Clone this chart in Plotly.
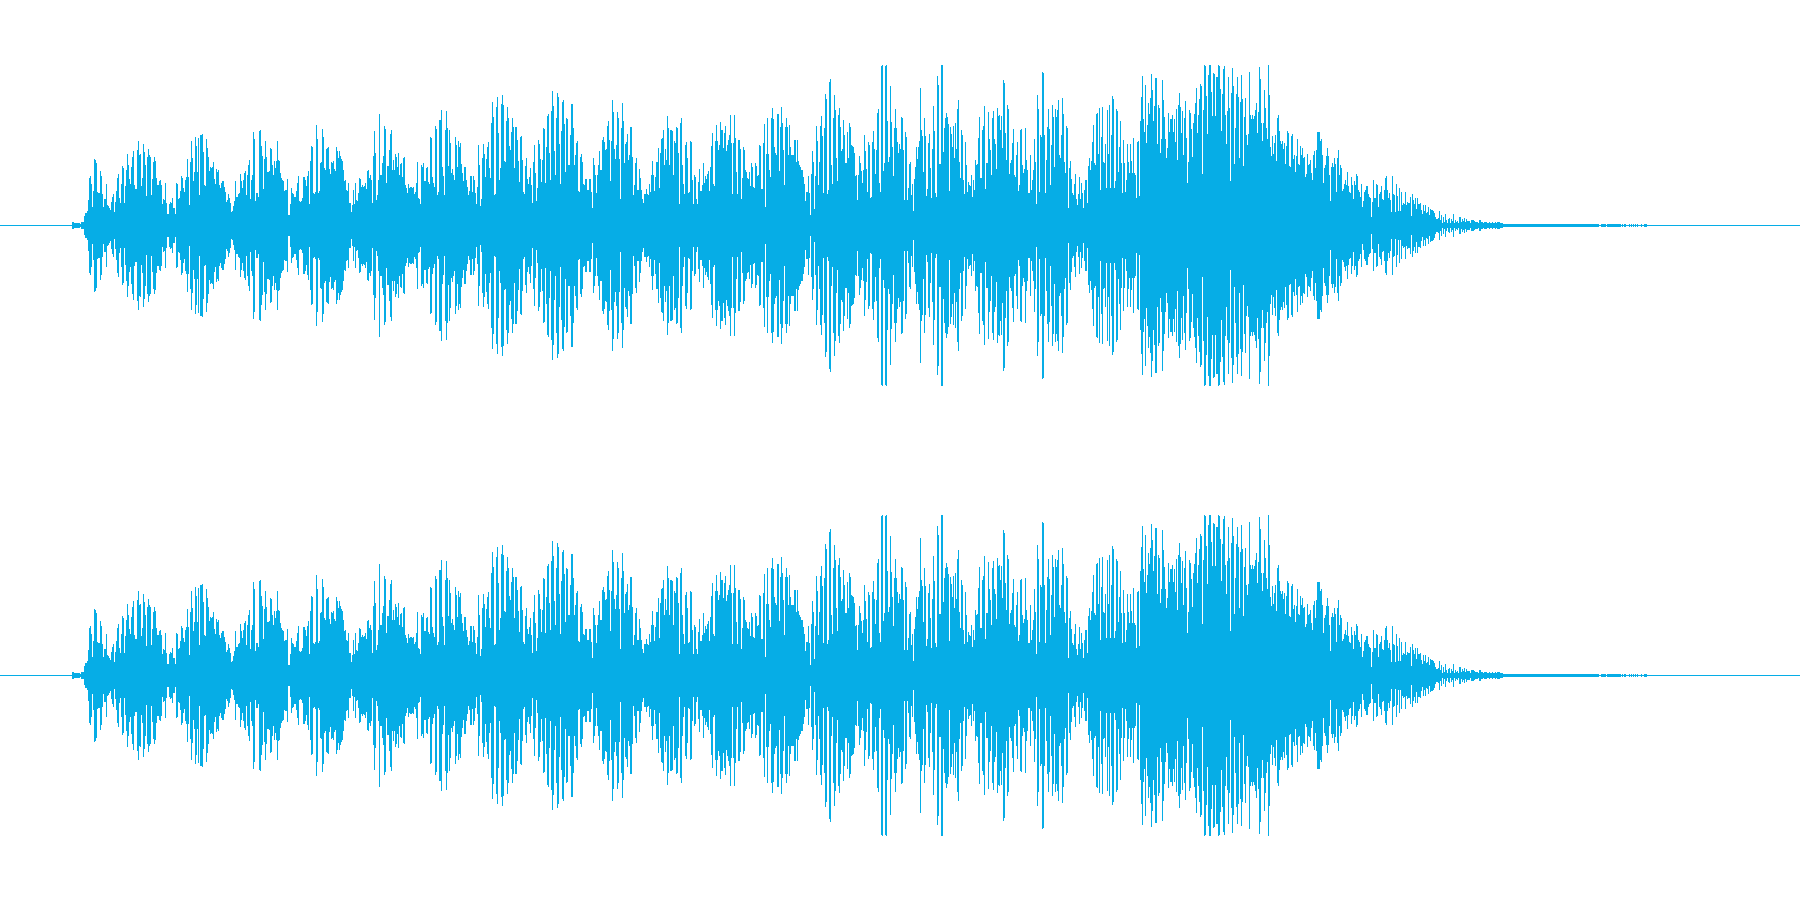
import plotly.graph_objects as go
from plotly.subplots import make_subplots

COLOR = "#06ADE6"
COLUMNS = 1800

onset = [3,3,2,2,2,2,2,2,1,3,3,3,9,12,12,14]
part_a = [25,47,49,41,18,34,66,65,62,33,32,32,54,49,31,18,26,26,41,20,19,17,15,23,28,31,13,23,34,47,51,27,22,41,59,57,22,39,55,71,60,46,41,58,68,74,40,36,36,75,84,70,71,39,47,81,73,60,29,68,76,70,68,30,46,63,68,64,47,40,40,44,45,40,21,26,25,42,22,11,11,21,23,22,27,17,17,11,42,41,26,27,34,49,47,37,33,45,48,66,48,20,63,84,67,44,53,88,79,53,87,30,90,90,91,73,40,39,86,77,68,54,58,57,58,63,46,41,56,53,55,40,37,42,44,44,38,33,23,25,31,27,22,13,14,19,24,44,28,28,31,32,51,44,37,45,52,54,30,50,60,65,26,45,50,93,86,24,32,32,28,94,95,79,69,36,66,84,68,53,53,54,77,76,60,50,64,57,64,84,65,64,52,47,45,44,34,35,35,46,10,10,21,37,32,31,28,28,34,42,49,24,23,24,27,48,48,45,39,49,54,21,64,79,78,32,31,33,100,86,32,34,62,63,96,88,57,55,76,77,78,56,51,63,62,64,56,54,78,74,67,74,69,66,64,55,44,45,35,34,42,22,22,13,20,35,21,42,25,24,32,47,46,38,40,38,39,42,36,54,55,47,50,45,22,69,94,72,25,30,45,111,50,50,62,69,99,96,42,59,59,75,91,95,55,65,55,71,68,58,72,50,61,62,48,67,68,40,37,32,41,37,38,38,37,38,31,33,42,63,27,26,21,60,58,62,44,44,57,58,43,41,88,87,48,42,38,99,96,30,33,105,105,115,58,49,30,95,114,97,59,95,82,52,56,50,45,88,80,58,84,78]
part_b = [82,61,52,44,58,58,45,38,30,34,49,49,33,49,45,32,21,38,80,60,19,26,67,81,71,48,66,78,83,57,47,102,123,108,30,31,118,128,92,45,57,121,130,120,64,63,104,118,107,79,75,93,107,98,57,98,98,85,64,43,88,89,65,33,31,59,67,46,41,48,57,40,22,63,80,52,24,37,85,81,66,43,65,97,96,42,78,109,111,72,45,114,134,119,74,50,107,132,128,81,41,94,123,125,101,53,107,106,60,60,90,121,121,97,60,70,82,84,34,33,68,71,63,41,40,46,46,35,35,46,46,33,17,67,60,50,32,50,60,74,55,55,85,88,83,75,76,99,104,85,44,84,125,113,76,66,80,113,107,66,26,97,122,104,62,81,83,91,65,70,98,98,68,30,40,62,67,35,35,56,47,35,26,22,31,31,36,31,30,41,33,50,64,50,34,48,63,63,77,37,72,86,87,95,60,76,65,109,97,60,95,95,94,50,84,82,98,97,72,21,102,107,60,41,31,80,83,67,32,33,84,83,45,21,50,48,26,21,43,56,34,34,40,62,42,49,46,51,54,34,58,79,92,41,39,84,100,84,75,80,103,95,95,77,92,99,74,80,85,90,110,82,31,82,110,87,53,31,85,85,76,26,47,78,75,55,53,47,46,53,39,62,58,38,37,62,59,49,50,80,79,36,36,82,101,18,71,107,71,55,48,107,117,106,78,72,70,111,111,54,98,118,102,75,40,98,107,98,70,100,78,70,70,70,85,85,63,85,64,60,58,55,55,48,41,24,33,33,49,32,10,51,74,63,16,49,99,84,40,63,99,109,89,32,97,131,126,31,35,143,146,60,41,107,130,115,67,44,110,117,98,74,76,105,90,62,62,93,67,102]
part_c = [98,80,79,78,72,49,50,25,50,69,62,54,42,55,90,74,56,33,83,80,27,28,83,94,76,51,75,112,116,42,33,159,160,54,62,159,160,104,63,68,139,103,78,49,97,116,97,83,72,81,76,108,107,75,25,93,88,25,37,61,63,30,41,14,46,58,78,66,78,84,137,95,89,53,107,89,29,36,82,91,57,27,76,119,94,32,28,149,140,61,61,160,160,73,97,107,112,108,101,34,98,91,78,99,67,102,76,116,125,63,47,95,90,45,31,83,60,33,43,40,39,50,28,45,35,65,60,61,87,108,47,47,95,99,119,36,62,62,113,86,75,50,107,114,86,81,56,117,109,110,95,109,77,145,142,92,65,120,116,51,62,65,82,96,50,48,70,83,34,40,95,96,60,52,56,97,65,55,32,32,70,35,45,55,86,63,21,130,116,33,90,88,153,152,90,32,65,98,116,96,40,80,120,108,58,116,108,115,125,70,67,90,127,111,63,52,99,97,17,57,64,46,32,30,41,51,26,20,31,48,26,42,32,17,35,45,45,22,59,67,55,64,83,100,62,60,111,112,71,117,35,88,118,63,62,81,37,115,71,120,37,90,129,126,37,44,116,114,53,78,104,62,32,85,62,33,45,81,63,52]
part_d = [81,64,52,87,52,50,27,83,84,29,104,128,149,106,93,140,82,100,122,111,127,151,135,104,119,147,147,81,120,117,72,86,145,125,108,86,67,77,112,93,106,106,110,93,106,83,116,65,120,132,118,92,114,70,107,124,87,42,63,115,112,96,68,102,111,122,137,92,110,126,141,139,51,115,160,159,129,91,150,160,160,133,109,152,151,109,148,148,160,159,136,94,131,156,159,110,81,114,148,117,44,132,157,139,61,97,131,148,128,67,123,150,126,59,108,127,90,80,91,153,110,106,110,106,109,115,122,92,113,158,146,102,84,102,135,117,97,86,160,130,78,69,89,71,82,90,64,107,110,94,84,81,84,76,82,61,79,94,92,59,58,89,91,66,70,53,69,86,61,60,79,70,77,67,68,48,51,71,60,61,65,52,45,70,74,57,75,93,93,93,84,86,70,42,57,60,69,77,69,50,24,58,62,58,67,61,33,67,75,50,60,57,34,36,41,45,40,53,39,33,32,48,40,26,44,40,51,49,35,33,28,41,18,24,33,35,39,39,31,28,27,8,23,45,27,27,41,40,18,31,33,39,26,25,35,47,49,35,27,32,25,13,49,31,30,13,41,29,14,37,14,33,20,22,21,33,20,23,22,22,28,9,31,25,21,27,16,27,21,21,22,15,11,20,14,20,12,13,18,10,16,15,15,14,12,8,6,6,7,14,5,10,2,8,3,11,5,2,6,7,2,6,4,11,2,5,3,4,2,8,8,3,6,4,7,3,6,4,4,4,2,5,5,5,4,3,3,3,2,5,5,3,3,2,3,3,3,2,2,3,2,2,3,2,2,3,2,3,3,3,2,2,2,2,2,2,2,2,2,1,2,1,1,2,1,1,1,1,1,1]
# (first column, last column) of the faint tail runs with amplitude 1
tail_runs = [(1503,1584),(1585,1590),(1591,1594),(1595,1598),(1601,1605),(1607,1609),(1610,1616),(1617,1620),(1622,1622),(1624,1625),(1629,1629),(1631,1631),(1633,1633),(1635,1635),(1637,1637),(1641,1641),(1644,1646)]
part_starts = {72: onset, 88: part_a, 460: part_b, 850: part_c, 1130: part_d}

amplitude = [0] * COLUMNS
for start, part in part_starts.items():
    amplitude[start:start + len(part)] = part
for first, last in tail_runs:
    for c in range(first, last + 1):
        amplitude[c] = 1

xs, ys = [], []
for c, a in enumerate(amplitude):
    if a > 0:
        xs += [c + 0.5, c + 0.5, None]
        ys += [a + 0.5, -a - 0.5, None]

fig = make_subplots(rows=2, cols=1, vertical_spacing=0)
for row in (1, 2):
    fig.add_trace(go.Scatter(x=[0, COLUMNS], y=[0, 0], mode="lines", line=dict(color=COLOR, width=1),
                             hoverinfo="skip", showlegend=False), row=row, col=1)
    fig.add_trace(go.Scatter(x=xs, y=ys, mode="lines", line=dict(color=COLOR, width=1),
                             connectgaps=False, hoverinfo="skip", showlegend=False), row=row, col=1)
    fig.update_xaxes(range=[0, COLUMNS], visible=False, row=row, col=1)
    fig.update_yaxes(range=[-224.5, 225.5], visible=False, row=row, col=1)

fig.update_layout(width=1800, height=900, margin=dict(l=0, r=0, t=0, b=0),
                  paper_bgcolor="white", plot_bgcolor="white", showlegend=False)
fig.write_html("out.html", config={"displayModeBar": False},
               post_script="document.body.style.margin='0';document.documentElement.style.overflow='hidden';")
